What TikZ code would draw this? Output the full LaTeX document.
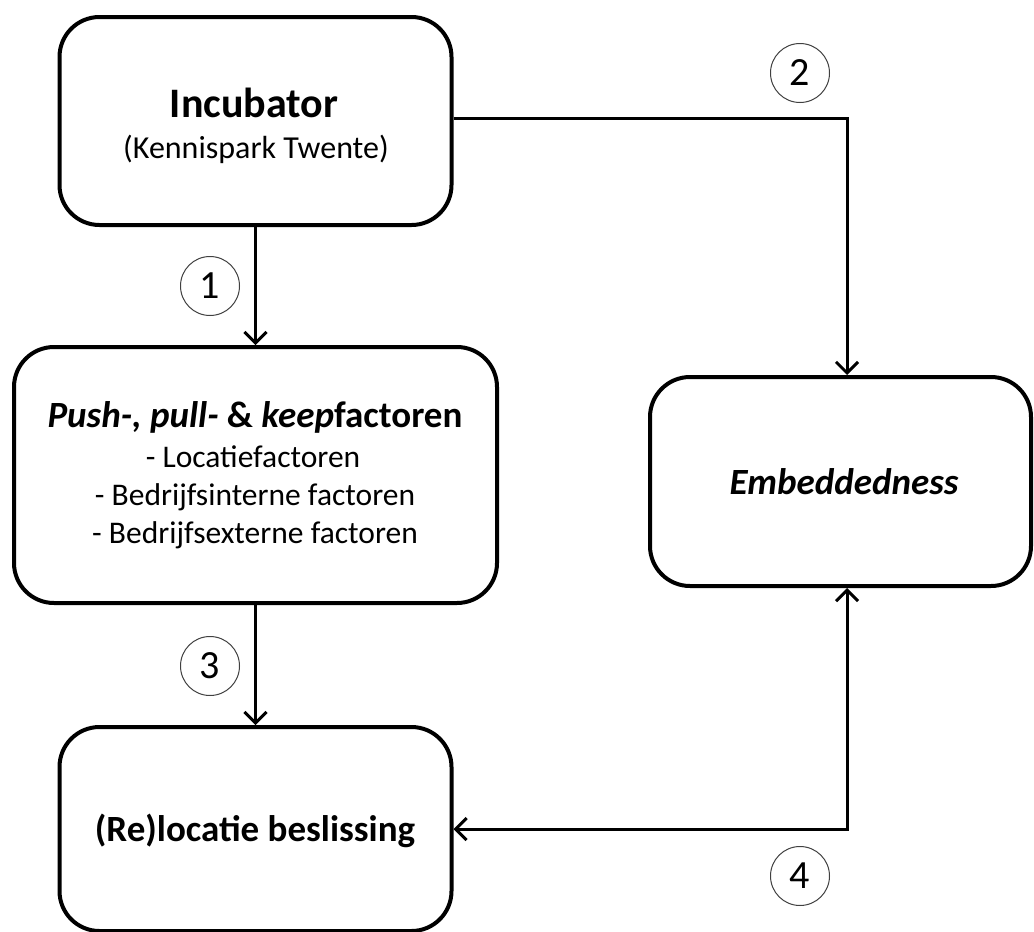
\documentclass[tikz,border=0pt]{standalone}
\usepackage{fontspec}
\setmainfont{Carlito}
\usetikzlibrary{arrows.meta}
\tikzset{
  box/.style={draw=black, line width=4pt, rounded corners=40pt, inner sep=0pt},
  txt/.style={anchor=base, inner sep=0pt},
  tip/.style={Straight Barb[length=11pt,width=22pt,line width=3pt]},
  conn/.style={draw=black, line width=3pt, -{Straight Barb[length=11pt,width=22pt,line width=3pt]}},
  both/.style={draw=black, line width=3pt, {Straight Barb[length=11pt,width=22pt,line width=3pt]}-{Straight Barb[length=11pt,width=22pt,line width=3pt]}},
  num/.style={draw=black!75, line width=1pt, circle, minimum size=59pt, inner sep=0pt, font=\fontsize{40}{40}\selectfont},
}
\begin{document}
\begin{tikzpicture}[x=1pt,y=-1pt]
\useasboundingbox (0,0) rectangle (1034,932);
% boxes
\node[box, minimum width=392pt, minimum height=208pt] (inc) at (255.5,121) {};
\node[box, minimum width=483pt, minimum height=256pt] (push) at (255.5,475) {};
\node[box, minimum width=381pt, minimum height=209pt] (emb) at (840.5,481.5) {};
\node[box, minimum width=392pt, minimum height=204pt] (rel) at (255.5,829) {};
% texts
\node[txt, font=\fontsize{42}{42}\selectfont\bfseries] (incA) at (254,117) {Incubator};
\node[txt, font=\fontsize{32}{32}\selectfont] (incB) at (256,158) {(Kennispark Twente)};
\node[txt, font=\fontsize{37}{37}\selectfont\bfseries] (pushA) at (255,427)
  {\itshape Push-, pull- \upshape\&\itshape\ keep\upshape factoren};
\node[txt, font=\fontsize{31.5}{31.5}\selectfont] (pushB) at (253,467) {- Locatiefactoren};
\node[txt, font=\fontsize{31.5}{31.5}\selectfont] (pushC) at (255,505) {- Bedrijfsinterne factoren};
\node[txt, font=\fontsize{31.5}{31.5}\selectfont] (pushD) at (255,543) {- Bedrijfsexterne factoren};
\node[txt, font=\fontsize{37}{37}\selectfont\bfseries\itshape] (embA) at (844,494) {Embeddedness};
\node[txt, font=\fontsize{37}{37}\selectfont\bfseries] (relA) at (255,841) {(Re)locatie beslissing};
% connectors
\coordinate (c2) at (847,118);
\coordinate (c4) at (847,829);
\draw[conn] (inc.south) -- (push.north);
\draw[conn] (push.south) -- (rel.north);
\draw[conn] (inc.east |- c2) -- (c2) -- (c2 |- emb.north);
\draw[both] (rel.east |- c4) -- (c4) -- (c4 |- emb.south);
% numbers
\node[num] (n1) at (210,286) {1};
\node[num] (n2) at (800,73) {2};
\node[num] (n3) at (210,666) {3};
\node[num] (n4) at (800,876) {4};
\end{tikzpicture}
\end{document}
